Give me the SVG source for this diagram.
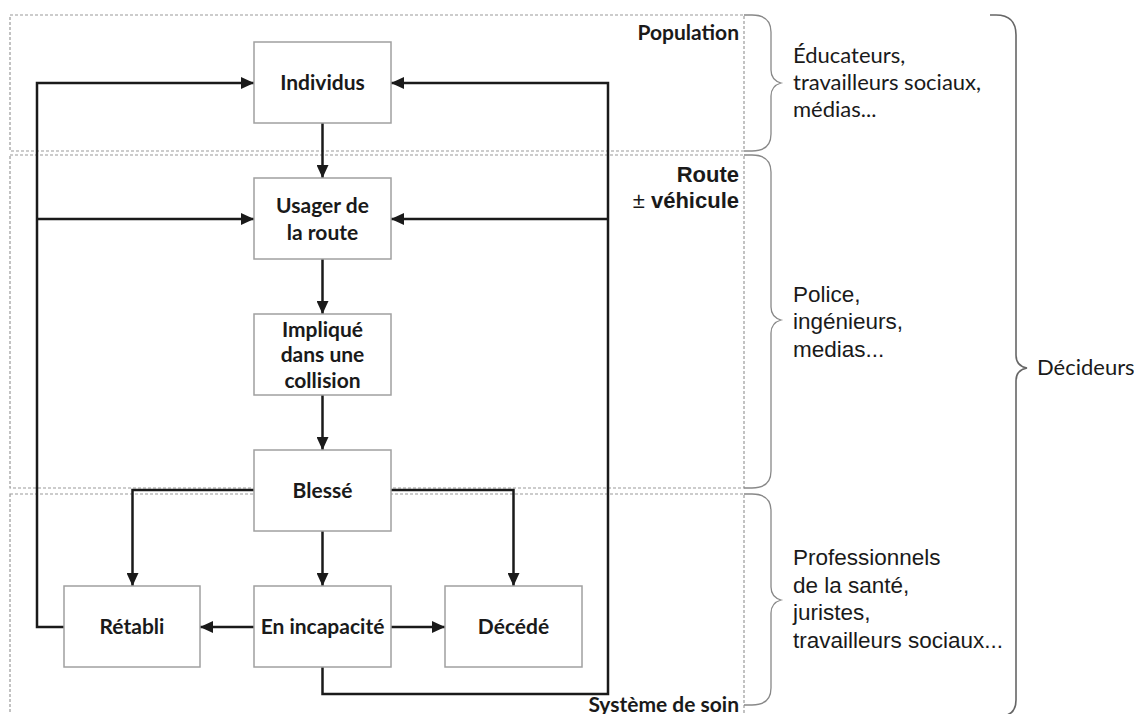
<svg xmlns="http://www.w3.org/2000/svg" width="1134" height="714" viewBox="0 0 1134 714">
  <defs>
    <marker id="arr" markerUnits="userSpaceOnUse" markerWidth="14" markerHeight="12" refX="13" refY="6" orient="auto">
      <path d="M0,0 L13,6 L0,12 Z" fill="#1a1a1a"/>
    </marker>
    <style>
      .region{fill:none;stroke:#9a9a9a;stroke-width:1.2;stroke-dasharray:3 2}
      .brace{fill:none;stroke:#888;stroke-width:1.3}
      .bigbrace{fill:none;stroke:#666;stroke-width:1.6}
      .box{fill:#fff;stroke:#a0a0a0;stroke-width:1.5}
      .lbl{font-family:Lato,"Open Sans",sans-serif;font-weight:bold;font-size:21px;fill:#1a1a1a;text-anchor:middle}
      .conn{fill:none;stroke:#1a1a1a;stroke-width:2.5}
      .cal{font-family:Lato,"Open Sans",sans-serif;font-size:22px;fill:#1a1a1a}
      .calb{font-family:Lato,"Open Sans",sans-serif;font-size:21px;font-weight:bold;fill:#1a1a1a;text-anchor:end}
      .ari{font-family:"Liberation Sans",Arial,sans-serif;font-size:22.5px;fill:#1a1a1a}
    </style>
  </defs>
  <rect width="1134" height="714" fill="#fff"/>

  <g id="regions">
    <rect class="region" x="10" y="15" width="734" height="136"/>
    <rect class="region" x="10" y="155" width="734" height="333"/>
    <rect class="region" x="10" y="494" width="734" height="230"/>
    <text class="calb" x="739" y="40">Population</text>
    <text x="739" y="182" font-family="Liberation Sans,Arial,sans-serif" font-size="22px" font-weight="bold" fill="#1a1a1a" text-anchor="end">Route</text>
    <text x="739" y="208" font-family="Liberation Sans,Arial,sans-serif" font-size="22px" font-weight="bold" fill="#1a1a1a" text-anchor="end"><tspan font-weight="normal">±</tspan> véhicule</text>
    <text class="calb" x="739" y="712">Système de soin</text>
  </g>

  <g id="braces">
    <path class="brace" d="M744,15 H752 Q771,15 771,32 V70 Q771,80 781,83 Q771,86 771,96 V134 Q771,151 752,151 H744"/>
    <path class="brace" d="M744,155 H752 Q771,155 771,172 V307 Q771,317 781,320 Q771,323 771,333 V471 Q771,488 752,488 H744"/>
    <path class="brace" d="M744,494 H752 Q771,494 771,511 V587 Q771,597 781,600 Q771,603 771,613 V688 Q771,705 752,705 H744"/>
    <path class="bigbrace" d="M990,15 H996 Q1016,15 1016,35 V355 Q1016,366 1027,368 Q1016,370 1016,381 V700 Q1016,716 1000,716"/>
  </g>

  <g id="side-labels">
    <text class="cal" x="793" y="63">Éducateurs,</text>
    <text class="cal" x="793" y="90">travailleurs sociaux,</text>
    <text class="cal" x="793" y="117">médias...</text>
    <text class="ari" x="793" y="302">Police,</text>
    <text class="ari" x="793" y="329">ingénieurs,</text>
    <text class="ari" x="793" y="357">medias...</text>
    <text class="ari" x="793" y="565">Professionnels</text>
    <text class="ari" x="793" y="593">de la santé,</text>
    <text class="ari" x="793" y="620">juristes,</text>
    <text class="ari" x="793" y="648">travailleurs sociaux...</text>
    <text class="cal" x="1037" y="375" font-size="21.3px">Décideurs</text>
  </g>

  <g id="connectors">
    <line class="conn" x1="322.5" y1="123" x2="322.5" y2="178" marker-end="url(#arr)"/>
    <line class="conn" x1="322.5" y1="259" x2="322.5" y2="314" marker-end="url(#arr)"/>
    <line class="conn" x1="322.5" y1="395" x2="322.5" y2="450" marker-end="url(#arr)"/>
    <line class="conn" x1="322.5" y1="531" x2="322.5" y2="586" marker-end="url(#arr)"/>
    <path class="conn" d="M254,490 H132.5 V586" marker-end="url(#arr)"/>
    <path class="conn" d="M391,490 H513.5 V586" marker-end="url(#arr)"/>
    <line class="conn" x1="254" y1="627" x2="200" y2="627" marker-end="url(#arr)"/>
    <line class="conn" x1="391" y1="627" x2="445" y2="627" marker-end="url(#arr)"/>
    <path class="conn" d="M64,627 H37 V83 H254" marker-end="url(#arr)"/>
    <line class="conn" x1="37" y1="219" x2="254" y2="219" marker-end="url(#arr)"/>
    <path class="conn" d="M322.5,667 V694 H608 V83 H391" marker-end="url(#arr)"/>
    <line class="conn" x1="608" y1="219" x2="391" y2="219" marker-end="url(#arr)"/>
  </g>

  <g id="individus">
    <rect class="box" x="254" y="42" width="137" height="81"/>
    <text class="lbl" x="322.5" y="90">Individus</text>
  </g>
  <g id="usager">
    <rect class="box" x="254" y="178" width="137" height="81"/>
    <text class="lbl" x="322.5" y="213">Usager de</text>
    <text class="lbl" x="322.5" y="240">la route</text>
  </g>
  <g id="implique">
    <rect class="box" x="254" y="314" width="137" height="81"/>
    <text class="lbl" x="322.5" y="337">Impliqué</text>
    <text class="lbl" x="322.5" y="362">dans une</text>
    <text class="lbl" x="322.5" y="388">collision</text>
  </g>
  <g id="blesse">
    <rect class="box" x="254" y="450" width="137" height="81"/>
    <text class="lbl" x="322.5" y="498">Blessé</text>
  </g>
  <g id="retabli">
    <rect class="box" x="64" y="586" width="136" height="81"/>
    <text class="lbl" x="132" y="634">Rétabli</text>
  </g>
  <g id="incapacite">
    <rect class="box" x="254" y="586" width="137" height="81"/>
    <text class="lbl" x="322.5" y="634">En incapacité</text>
  </g>
  <g id="decede">
    <rect class="box" x="445" y="586" width="137" height="81"/>
    <text class="lbl" x="513.5" y="634">Décédé</text>
  </g>
</svg>
